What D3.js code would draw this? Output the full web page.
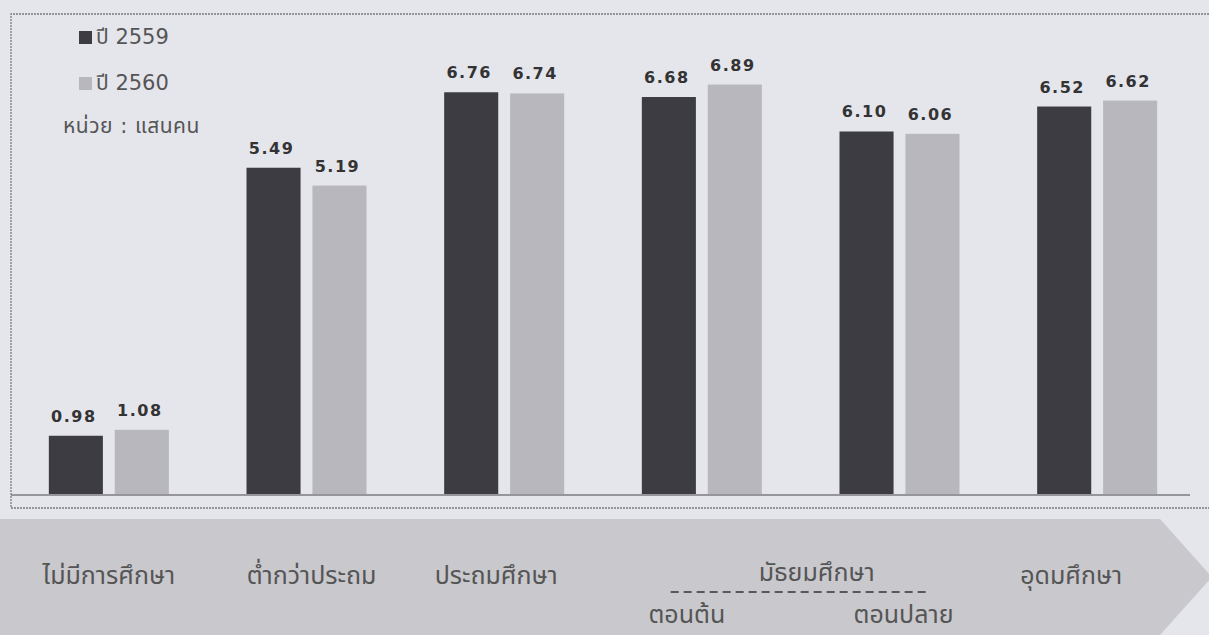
<!DOCTYPE html>
<html>
<head>
<meta charset="utf-8">
<script src="https://cdn.jsdelivr.net/npm/d3@7"></script>
<style>
  body { margin: 0; background: #e5e5ec; }
  svg { display: block; }
  .val { font-family: "DejaVu Sans", Verdana, sans-serif; font-weight: bold; font-size: 16px; letter-spacing: 1.5px; fill: #333; }
  .th { font-family: "DejaVu Sans", "Noto Sans Thai", "Noto Sans", Tahoma, sans-serif; fill: #555; }
</style>
</head>
<body>
<svg id="chart"></svg>
<script>
// data
const categories = ["ไม่มีการศึกษา", "ต่ำกว่าประถม", "ประถมศึกษา", "มัธยมศึกษาตอนต้น", "มัธยมศึกษาตอนปลาย", "อุดมศึกษา"];
const catLabels  = ["ไม่มีการศึกษา", "ต่ำกว่าประถม", "ประถมศึกษา", "ตอนต้น", "ตอนปลาย", "อุดมศึกษา"];
const series = ["ปี 2559", "ปี 2560"];
const y2559 = [0.98, 5.49, 6.76, 6.68, 6.10, 6.52];
const y2560 = [1.08, 5.19, 6.74, 6.89, 6.06, 6.62];
const groupLabel = "มัธยมศึกษา";
const unitLabel = "หน่วย : แสนคน";

const W = 1209, H = 635;
const base = 494;
const colors = {"ปี 2559": "#3c3c42", "ปี 2560": "#b7b7bd"};

const svg = d3.select("#chart").attr("width", W).attr("height", H);

const x0 = d3.scaleBand().domain(categories).range([10, 1196]);
const x1 = d3.scaleBand().domain(series).range([0, 120]).paddingInner(0.18);
const y = d3.scaleLinear().domain([0, 7]).range([base, 78]);

const rows = categories.map((c, i) => ({cat: c, vals: [
  {s: series[0], v: y2559[i]},
  {s: series[1], v: y2560[i]}
]}));

// frame
const frame = svg.append("g").attr("stroke", "#7a7a80").attr("fill", "none");
frame.append("path").attr("d", "M1209,14 H11 V508 H1209").attr("stroke-dasharray", "2,1").attr("stroke-width", 1.3);
frame.append("line").attr("x1", 11).attr("x2", 1190).attr("y1", base + 1).attr("y2", base + 1).attr("stroke-width", 1.3);

// bars
const g = svg.append("g").selectAll("g").data(rows).join("g")
  .attr("transform", d => `translate(${x0(d.cat) + x0.bandwidth() / 2 - 60},0)`);

g.selectAll("rect").data(d => d.vals).join("rect")
  .attr("x", d => x1(d.s))
  .attr("width", x1.bandwidth())
  .attr("y", d => y(d.v))
  .attr("height", d => base - y(d.v))
  .attr("fill", d => colors[d.s]);

g.selectAll("text").data(d => d.vals).join("text")
  .attr("class", "val")
  .attr("x", d => x1(d.s) + x1.bandwidth() / 2 - 2)
  .attr("y", d => y(d.v) - 14)
  .attr("text-anchor", "middle")
  .text(d => d.v.toFixed(2));

// legend
const leg = svg.append("g").selectAll("g").data(series).join("g")
  .attr("transform", (d, i) => `translate(79,${31 + i * 46})`);
leg.append("rect").attr("width", 13).attr("height", 13).attr("fill", d => colors[d]);
leg.append("text").attr("class", "th").attr("x", 17).attr("y", 13).attr("font-size", 21).text(d => d);
svg.append("text").attr("class", "th").attr("x", 63).attr("y", 133).attr("font-size", 21).attr("letter-spacing", 0.5).text(unitLabel);

// bottom arrow band
svg.append("path")
  .attr("d", "M0,519 H1160 L1212,577 L1160,635 H0 Z")
  .attr("fill", "#c8c8cd");

const cx = c => x0(c) + x0.bandwidth() / 2;
const nudge = [0, 5, -8, -15, 4, -26];
svg.append("g").selectAll("text").data(categories).join("text")
  .attr("class", "th")
  .attr("font-size", 25)
  .attr("text-anchor", "middle")
  .attr("x", (d, i) => cx(d) + nudge[i])
  .attr("y", (d, i) => (i === 3 || i === 4) ? 623 : 584)
  .text((d, i) => catLabels[i]);

const midX = (cx(categories[3]) + cx(categories[4])) / 2;
svg.append("text").attr("class", "th").attr("font-size", 25).attr("text-anchor", "middle")
  .attr("x", midX + 16).attr("y", 581).text(groupLabel);
svg.append("line")
  .attr("x1", midX - 130).attr("x2", midX + 128)
  .attr("y1", 592).attr("y2", 592)
  .attr("stroke", "#333").attr("stroke-width", 1.5).attr("stroke-dasharray", "8,5");
</script>
</body>
</html>
